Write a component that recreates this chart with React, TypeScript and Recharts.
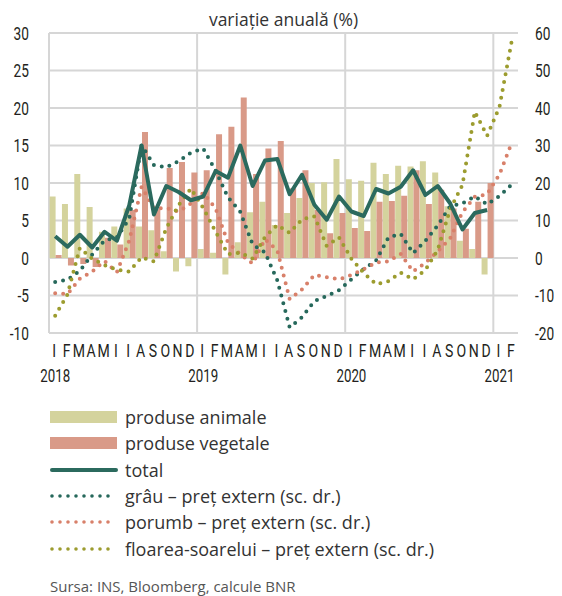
import { ComposedChart, Bar, Line, XAxis, YAxis, CartesianGrid } from 'recharts';

// ian. 2018 – feb. 2021, one entry per month
const monthLetters = [
  'I', 'F', 'M', 'A', 'M', 'I', 'I', 'A', 'S', 'O', 'N', 'D',
  'I', 'F', 'M', 'A', 'M', 'I', 'I', 'A', 'S', 'O', 'N', 'D',
  'I', 'F', 'M', 'A', 'M', 'I', 'I', 'A', 'S', 'O', 'N', 'D',
  'I', 'F',
];
const years = ['2018', '2019', '2020', '2021'];

// left scale (%)
const animale = [
  8.2, 7.2, 11.2, 6.8, 3.5, 4.2, 6.6, 4.2, 3.7, 0.9, -1.8, -1.1,
  1.2, 0.7, -2.2, 2.1, 6.1, 7.5, 4.4, 6.0, 8.0, 10.0, 10.1, 13.2,
  10.5, 10.3, 12.7, 11.2, 12.3, 12.2, 12.9, 11.4, 6.9, 2.3, 1.2, -2.2,
  null, null,
];
const vegetale = [
  0.4, -1.0, -0.8, -1.2, 2.7, 1.8, 6.4, 16.8, 6.5, 12.0, 12.8, 11.4,
  11.7, 16.5, 17.5, 21.4, 11.2, 14.6, 15.6, 9.3, 11.7, 6.4, 3.3, 6.0,
  4.0, 3.6, 7.5, 7.6, 8.3, 11.7, 7.2, 9.1, 6.6, 3.9, 7.5, 10.0,
  null, null,
];
const total = [
  2.9, 1.5, 3.1, 1.4, 3.5, 2.3, 7.0, 15.0, 5.8, 9.6, 8.8, 7.7,
  8.2, 11.6, 10.7, 15.0, 9.6, 13.0, 13.2, 8.5, 11.1, 7.1, 5.1, 8.2,
  6.2, 5.6, 9.2, 8.6, 9.5, 11.7, 8.4, 9.6, 7.3, 3.8, 6.0, 6.4,
  null, null,
];

// right scale (%)
const grau = [
  -6.4, -5.8, -3.4, 0.9, 4.7, 5.5, 10.5, 30.1, 24.8, 24.2, 25.8, 28.1,
  29.2, 23.3, 16.2, 12.3, 3.6, 1.5, -6.0, -18.5, -15.8, -11.5, -10.1, -8.6,
  -5.7, -2.9, -0.7, 5.5, 6.4, 1.3, 4.6, 8.7, 13.8, 14.6, 16.4, 14.3,
  16.5, 19.6,
];
const porumb = [
  -9.4, -9.6, -5.5, -3.6, -0.8, -3.8, 4.6, 19.0, 13.3, 13.3, 12.4, 14.5,
  17.4, 13.2, 4.1, 1.0, -1.5, 5.0, 2.0, -11.0, -8.4, -4.5, -5.1, -5.7,
  -4.5, -3.0, -1.2, -0.9, 1.1, -3.6, -1.3, 1.8, 5.2, 12.2, 16.3, 17.0,
  22.3, 30.8,
];
const floarea = [
  -15.4, -9.7, 2.7, -0.2, -1.9, -3.1, -3.6, 0.2, -0.9, 7.9, 14.1, 18.5,
  13.3, 7.0, 1.0, 1.4, -0.2, 5.6, 8.8, 6.7, 10.3, 11.1, 3.2, 5.5,
  -0.2, -4.0, -7.0, -6.2, -3.9, -5.7, -3.2, 2.2, 13.0, 19.5, 39.0, 32.6,
  40.3, 58.0,
];

const leftTicks = [-10, -5, 0, 5, 10, 15, 20, 25, 30];
const rightTicks = [-20, -10, 0, 10, 20, 30, 40, 50, 60];

const data = monthLetters.map((m, i) => ({
  idx: i,
  m,
  animale: animale[i],
  vegetale: vegetale[i],
  total: total[i],
  grau: grau[i],
  porumb: porumb[i],
  floarea: floarea[i],
}));

const C_ANIMALE = '#d4d39d';
const C_VEGETALE = '#d99a88';
const C_TOTAL = '#2b6a5e';
const C_GRAU = '#26685b';
const C_PORUMB = '#d8806a';
const C_FLOAREA = '#9c9c2f';

const sans = "'Open Sans', 'Noto Sans', sans-serif";
const TEXT = '#231f20';

// condensed-looking text: Roboto squeezed horizontally
function NarrowText({ x, y, anchor, size, children }: any) {
  return (
    <text
      transform={`translate(${x},${y}) scale(0.74,1)`}
      textAnchor={anchor}
      fontFamily="Roboto, sans-serif"
      fontSize={size}
      fill={TEXT}
    >
      {children}
    </text>
  );
}

function MonthTick({ x, y, payload }: any) {
  const i = payload.value as number;
  return (
    <g>
      <NarrowText x={x - 1} y={y + 24} anchor="middle" size={19}>
        {monthLetters[i]}
      </NarrowText>
      {i % 12 === 0 && (
        <NarrowText x={x} y={y + 49} anchor="middle" size={18}>
          {years[i / 12]}
        </NarrowText>
      )}
    </g>
  );
}

function LeftTick({ x, y, payload }: any) {
  return (
    <NarrowText x={x} y={y + 6.5} anchor="end" size={18.5}>
      {payload.value}
    </NarrowText>
  );
}

function RightTick({ x, y, payload }: any) {
  return (
    <NarrowText x={x} y={y + 6.5} anchor="start" size={18.5}>
      {payload.value}
    </NarrowText>
  );
}

// year separators at band edges
const yearLines = ({ offset }: any) => {
  const w = offset.width / monthLetters.length;
  return [0, 12, 24, 36].map((k) => offset.left + k * w);
};

const legendItems = [
  { label: 'produse animale', kind: 'bar', color: C_ANIMALE },
  { label: 'produse vegetale', kind: 'bar', color: C_VEGETALE },
  { label: 'total', kind: 'line', color: C_TOTAL },
  { label: 'grâu – preț extern (sc. dr.)', kind: 'dots', color: C_GRAU },
  { label: 'porumb – preț extern (sc. dr.)', kind: 'dots', color: C_PORUMB },
  { label: 'floarea-soarelui – preț extern (sc. dr.)', kind: 'dots', color: C_FLOAREA },
];

function Swatch({ kind, color }: { kind: string; color: string }) {
  return (
    <svg width={68} height={14} style={{ flexShrink: 0 }}>
      {kind === 'bar' && <rect x={0} y={1} width={67} height={12} fill={color} />}
      {kind === 'line' && (
        <line x1={2} y1={7} x2={66} y2={7} stroke={color} strokeWidth={4} strokeLinecap="round" />
      )}
      {kind === 'dots' && (
        <line
          x1={2}
          y1={7}
          x2={66}
          y2={7}
          stroke={color}
          strokeWidth={3.6}
          strokeLinecap="round"
          strokeDasharray="0 8"
        />
      )}
    </svg>
  );
}

export default function App() {
  return (
    <div style={{ position: 'relative', width: 554, height: 588, fontFamily: sans, color: TEXT }}>
      <div
        style={{
          position: 'absolute',
          top: 3,
          left: 41,
          width: 469,
          textAlign: 'center',
          fontSize: 17.5,
          lineHeight: '17.5px',
          color: '#333',
        }}
      >
        variație anuală (%)
      </div>

      <ComposedChart
        width={554}
        height={385}
        data={data}
        margin={{ top: 25, right: 0, bottom: 0, left: 0 }}
        barGap={0}
        barCategoryGap={0.6}
      >
        <CartesianGrid
          yAxisId="l"
          stroke="#d6d6d6"
          strokeWidth={2}
          verticalCoordinatesGenerator={yearLines}
        />
        <XAxis
          dataKey="idx"
          interval={0}
          tickLine={false}
          axisLine={false}
          tickSize={0}
          tickMargin={0}
          height={60}
          tick={<MonthTick />}
        />
        <YAxis
          yAxisId="l"
          domain={[-10, 30]}
          ticks={leftTicks}
          width={41}
          tickLine={false}
          axisLine={false}
          tickSize={0}
          tickMargin={20}
          tick={<LeftTick />}
        />
        <YAxis
          yAxisId="r"
          orientation="right"
          domain={[-20, 60]}
          ticks={rightTicks}
          width={44}
          tickLine={false}
          axisLine={false}
          tickSize={0}
          tickMargin={17}
          tick={<RightTick />}
        />

        <Bar yAxisId="l" dataKey="animale" fill={C_ANIMALE} isAnimationActive={false} />
        <Bar yAxisId="l" dataKey="vegetale" fill={C_VEGETALE} isAnimationActive={false} />

        <Line
          yAxisId="r"
          dataKey="grau"
          type="linear"
          stroke={C_GRAU}
          strokeWidth={4}
          strokeLinecap="round"
          strokeDasharray="0 8"
          dot={false}
          isAnimationActive={false}
        />
        <Line
          yAxisId="r"
          dataKey="porumb"
          type="linear"
          stroke={C_PORUMB}
          strokeWidth={4}
          strokeLinecap="round"
          strokeDasharray="0 8"
          dot={false}
          isAnimationActive={false}
        />
        <Line
          yAxisId="r"
          dataKey="floarea"
          type="linear"
          stroke={C_FLOAREA}
          strokeWidth={4}
          strokeLinecap="round"
          strokeDasharray="0 8"
          dot={false}
          isAnimationActive={false}
        />
        <Line
          yAxisId="l"
          dataKey="total"
          type="linear"
          stroke={C_TOTAL}
          strokeWidth={4}
          strokeLinejoin="round"
          dot={false}
          isAnimationActive={false}
        />
      </ComposedChart>

      <div style={{ position: 'absolute', top: 396, left: 42 }}>
        {legendItems.map((it) => (
          <div key={it.label} style={{ display: 'flex', alignItems: 'center', height: 26.3, gap: 7 }}>
            <Swatch kind={it.kind} color={it.color} />
            <span style={{ fontSize: 18, lineHeight: '18px', color: '#333' }}>{it.label}</span>
          </div>
        ))}
      </div>

      <div
        style={{ position: 'absolute', top: 570, left: 42, fontSize: 15, lineHeight: '17px', color: '#555' }}
      >
        Sursa: INS, Bloomberg, calcule BNR
      </div>
    </div>
  );
}
